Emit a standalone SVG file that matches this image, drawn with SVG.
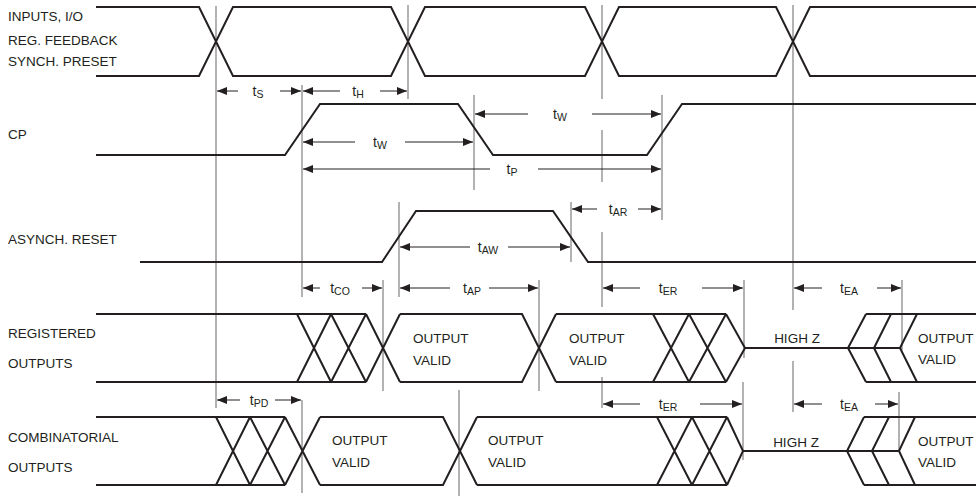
<svg xmlns="http://www.w3.org/2000/svg" width="976" height="496" viewBox="0 0 976 496">
<style>
text{font-family:"Liberation Sans",Arial,sans-serif;fill:#231f20}
.lbl{font-size:13.5px}
.t{font-size:14px;text-anchor:middle}
.s{font-size:10.5px}
.w{fill:none;stroke:#231f20;stroke-width:2;stroke-linejoin:miter}
.g{stroke:#808080;stroke-width:1.2;fill:none}
.a{stroke:#231f20;stroke-width:1;fill:none;marker-end:url(#ah)}
</style>
<defs>
<marker id="ah" markerUnits="userSpaceOnUse" markerWidth="11" markerHeight="9" refX="10" refY="4" orient="auto">
<path d="M0,0 L10,4 L0,8 z" fill="#231f20"/>
</marker>
</defs>
<rect width="976" height="496" fill="#fff"/>

<g id="guides">
<path class="g" d="M216,6V408 M408,5V99 M602,5V99 M602,130V182 M602,232V307 M602,377V408 M793,5V310 M793,361V412 M302,85V297 M302,400V493 M474,95V190 M662,95V220 M399,202V297 M571,202V262 M383,280V391 M539,280V391 M744,280V358 M902,280V350 M459,390V496 M743,382V460 M899,392V452"/>
</g>

<g id="inputs">
<text class="lbl" x="8" y="21">INPUTS, I/O</text>
<text class="lbl" x="8" y="45">REG. FEEDBACK</text>
<text class="lbl" x="8" y="66">SYNCH. PRESET</text>
<path class="w" d="M96,7H199L233,76H391L425,7H585L619,76H776L810,7H976"/>
<path class="w" d="M96,76H199L233,7H391L425,76H585L619,7H776L810,76H976"/>
</g>

<g id="cp">
<text class="lbl" x="8" y="139">CP</text>
<path class="w" d="M96,155H285L320,104H458L493,155H647L682,104H976"/>
</g>

<g id="asynch-reset">
<text class="lbl" x="8" y="244">ASYNCH. RESET</text>
<path class="w" d="M140,262H382L416,211H553L588,262H976"/>
</g>

<g id="registered-outputs">
<text class="lbl" x="8" y="338">REGISTERED</text>
<text class="lbl" x="8" y="368">OUTPUTS</text>
<path class="w" d="M96,314H366 M96,382H366 M297,314L331,382 M297,382L331,314 M331,314L366,382 M331,382L366,314 M366,314L400,382 M366,382L400,314 M400,314H522L556,382 M400,382H522L556,314 M556,314H726 M556,382H726 M653,314L689,382 M653,382L689,314 M689,314L726,382 M689,382L726,314 M726,314L745,348L726,382 M745,348H900 M866,314L848,348L866,382 M891,314L874,348L891,382 M917,314L900,348L917,382 M866,314H976 M866,382H976"/>
<text class="lbl" x="413" y="343">OUTPUT</text>
<text class="lbl" x="413" y="365">VALID</text>
<text class="lbl" x="569" y="343">OUTPUT</text>
<text class="lbl" x="569" y="365">VALID</text>
<text class="lbl" x="797" y="343" text-anchor="middle">HIGH Z</text>
<text class="lbl" x="918" y="343">OUTPUT</text>
<text class="lbl" x="918" y="364">VALID</text>
</g>

<g id="combinatorial-outputs">
<text class="lbl" x="8" y="442">COMBINATORIAL</text>
<text class="lbl" x="8" y="472">OUTPUTS</text>
<path class="w" d="M96,417H285 M96,485H285 M216,417L250,485 M216,485L250,417 M250,417L285,485 M250,485L285,417 M285,417L320,485 M285,485L320,417 M320,417H443L477,485 M320,485H443L477,417 M477,417H727 M477,485H727 M657,417L692,485 M657,485L692,417 M692,417L727,485 M692,485L727,417 M727,417L743,451L727,485 M743,451H899 M864,417L847,451L864,485 M889,417L872,451L889,485 M915,417L899,451L915,485 M864,417H976 M864,485H976"/>
<text class="lbl" x="332" y="445">OUTPUT</text>
<text class="lbl" x="332" y="467">VALID</text>
<text class="lbl" x="488" y="445">OUTPUT</text>
<text class="lbl" x="488" y="467">VALID</text>
<text class="lbl" x="796" y="447" text-anchor="middle">HIGH Z</text>
<text class="lbl" x="918" y="446">OUTPUT</text>
<text class="lbl" x="918" y="467">VALID</text>
</g>

<g id="connectors">
<line class="a" x1="238" y1="91" x2="217" y2="91"/><line class="a" x1="280" y1="91" x2="301" y2="91"/>
<line class="a" x1="340" y1="91" x2="303" y2="91"/><line class="a" x1="380" y1="91" x2="407" y2="91"/>
<line class="a" x1="528" y1="114" x2="475" y2="114"/><line class="a" x1="592" y1="114" x2="661" y2="114"/>
<line class="a" x1="355" y1="142" x2="303" y2="142"/><line class="a" x1="405" y1="142" x2="473" y2="142"/>
<line class="a" x1="490" y1="169" x2="303" y2="169"/><line class="a" x1="538" y1="169" x2="661" y2="169"/>
<line class="a" x1="597" y1="209" x2="572" y2="209"/><line class="a" x1="638" y1="209" x2="661" y2="209"/>
<line class="a" x1="470" y1="247" x2="400" y2="247"/><line class="a" x1="508" y1="247" x2="570" y2="247"/>
<line class="a" x1="320" y1="288" x2="303" y2="288"/><line class="a" x1="362" y1="288" x2="382" y2="288"/>
<line class="a" x1="450" y1="288" x2="400" y2="288"/><line class="a" x1="489" y1="288" x2="538" y2="288"/>
<line class="a" x1="640" y1="288" x2="603" y2="288"/><line class="a" x1="702" y1="288" x2="743" y2="288"/>
<line class="a" x1="822" y1="288" x2="794" y2="288"/><line class="a" x1="877" y1="288" x2="901" y2="288"/>
<line class="a" x1="240" y1="400" x2="217" y2="400"/><line class="a" x1="275" y1="400" x2="301" y2="400"/>
<line class="a" x1="640" y1="404" x2="603" y2="404"/><line class="a" x1="700" y1="404" x2="742" y2="404"/>
<line class="a" x1="822" y1="404" x2="794" y2="404"/><line class="a" x1="875" y1="404" x2="898" y2="404"/>
<text class="t" x="258" y="96">t<tspan class="s" dy="2">S</tspan></text>
<text class="t" x="358" y="96">t<tspan class="s" dy="2">H</tspan></text>
<text class="t" x="560" y="119">t<tspan class="s" dy="2">W</tspan></text>
<text class="t" x="380" y="147">t<tspan class="s" dy="2">W</tspan></text>
<text class="t" x="512" y="174">t<tspan class="s" dy="2">P</tspan></text>
<text class="t" x="618" y="214">t<tspan class="s" dy="2">AR</tspan></text>
<text class="t" x="488" y="252">t<tspan class="s" dy="2">AW</tspan></text>
<text class="t" x="340" y="293">t<tspan class="s" dy="2">CO</tspan></text>
<text class="t" x="472" y="293">t<tspan class="s" dy="2">AP</tspan></text>
<text class="t" x="668" y="293">t<tspan class="s" dy="2">ER</tspan></text>
<text class="t" x="849" y="293">t<tspan class="s" dy="2">EA</tspan></text>
<text class="t" x="259" y="405">t<tspan class="s" dy="2">PD</tspan></text>
<text class="t" x="668" y="409">t<tspan class="s" dy="2">ER</tspan></text>
<text class="t" x="849" y="409">t<tspan class="s" dy="2">EA</tspan></text>
</g>
</svg>
